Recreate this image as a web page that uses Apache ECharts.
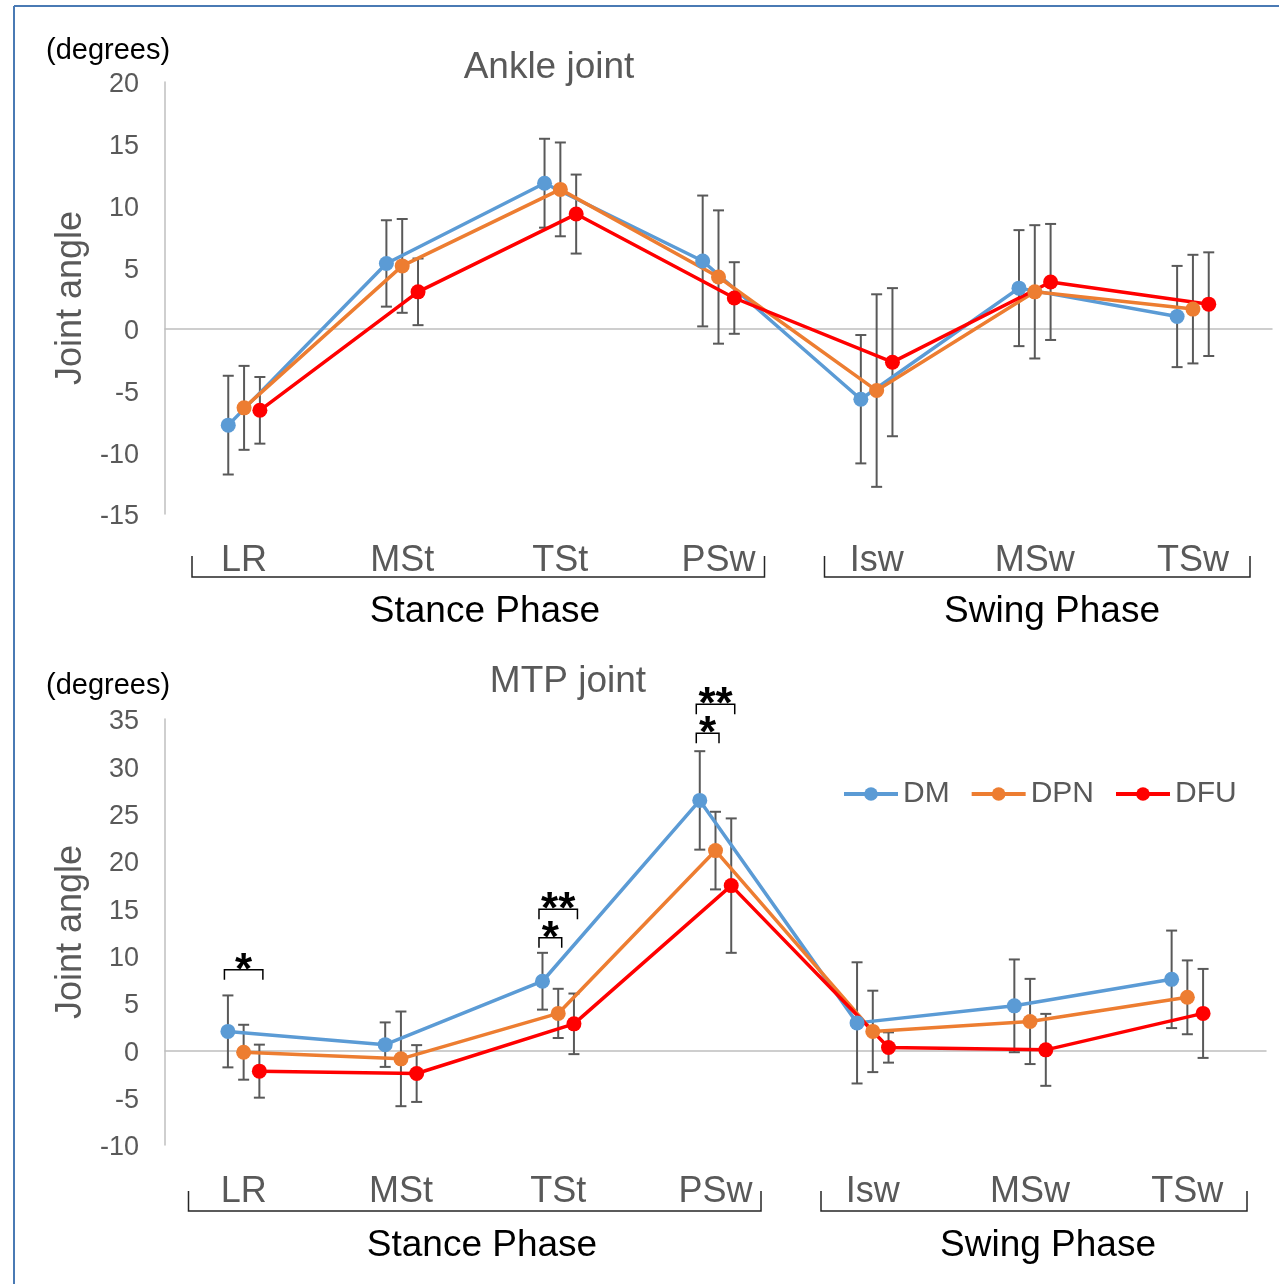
<!DOCTYPE html>
<html>
<head>
<meta charset="utf-8">
<script src="https://cdn.jsdelivr.net/npm/echarts@6/dist/echarts.min.js"></script>
<style>
  html, body { margin: 0; padding: 0; background: #fff; }
  #main { width: 1279px; height: 1284px; }
</style>
</head>
<body>
<div id="main"></div>
<script>
'use strict';
// gait phases
var categories = ['LR', 'MSt', 'TSt', 'PSw', 'Isw', 'MSw', 'TSw'];
var groups = ['DM', 'DPN', 'DFU'];
var colors = ['#5B9BD5', '#ED7D31', '#FF0000'];

// Ankle joint (mean / sd)
var ankleDM = [-7.8, 5.3, 11.8, 5.5, -5.7, 3.3, 1.0];
var ankleDMsd = [4.0, 3.5, 3.6, 5.3, 5.2, 4.7, 4.1];
var ankleDPN = [-6.4, 5.1, 11.3, 4.2, -5.0, 3.0, 1.6];
var ankleDPNsd = [3.4, 3.8, 3.8, 5.4, 7.8, 5.4, 4.4];
var ankleDFU = [-6.6, 3.0, 9.3, 2.5, -2.7, 3.8, 2.0];
var ankleDFUsd = [2.7, 2.7, 3.2, 2.9, 6.0, 4.7, 4.2];

// MTP joint (mean / sd)
var mtpDM = [2.0, 0.6, 7.3, 26.4, 2.9, 4.7, 7.5];
var mtpDMsd = [3.8, 2.35, 3.0, 5.2, 6.4, 4.9, 5.15];
var mtpDPN = [-0.2, -0.9, 3.9, 21.1, 2.0, 3.05, 5.6];
var mtpDPNsd = [2.9, 5.0, 2.6, 4.1, 4.3, 4.5, 3.9];
var mtpDFU = [-2.2, -2.45, 2.8, 17.4, 0.3, 0.05, 3.9];
var mtpDFUsd = [2.8, 3.0, 3.2, 7.1, 1.6, 3.8, 4.7];

// significance brackets on MTP (from DM to group index sigTo)
var sigCat = [0, 2, 2, 3, 3];
var sigTo = [2, 1, 2, 1, 2];
var sigY = [8.5, 11.9, 14.9, 33.5, 36.55];
var sigLabel = ['*', '*', '**', '*', '**'];

var dodge = [-0.1, 0, 0.1];
var FONT = '"Liberation Sans", Arial, sans-serif';
var GRAY = '#595959';
var AXIS = '#bfbfbf';

function pts(vals, s) {
	return vals.map(function(v, i) { return [i + dodge[s], v]; });
}
function bars(vals, sd, s) {
	return vals.map(function(v, i) { return [i + dodge[s], v - sd[i], v + sd[i]]; });
}

function errorBarItem(params, api) {
	var top = api.coord([api.value(0), api.value(2)]);
	var bot = api.coord([api.value(0), api.value(1)]);
	var w = 5.5;
	var st = { stroke: GRAY, lineWidth: 2 };
	return {
		type: 'group',
		children: [
			{ type: 'line', shape: { x1: top[0], y1: top[1], x2: bot[0], y2: bot[1] }, style: st },
			{ type: 'line', shape: { x1: top[0] - w, y1: top[1], x2: top[0] + w, y2: top[1] }, style: st },
			{ type: 'line', shape: { x1: bot[0] - w, y1: bot[1], x2: bot[0] + w, y2: bot[1] }, style: st }
		]
	};
}

function sigItem(params, api) {
	var a = api.coord([api.value(0), api.value(2)]);
	var b = api.coord([api.value(1), api.value(2)]);
	var x1 = a[0] - 3.5, x2 = b[0] + 3.5, y = a[1], tick = 10;
	return {
		type: 'group',
		children: [
			{
				type: 'polyline',
				shape: { points: [[x1, y + tick], [x1, y], [x2, y], [x2, y + tick]] },
				style: { stroke: '#000', lineWidth: 1.5, fill: null }
			},
			{
				type: 'text',
				style: {
					text: sigLabel[params.dataIndex],
					x: (x1 + x2) / 2, y: y + 2,
					align: 'center', verticalAlign: 'middle',
					font: 'bold 44px ' + FONT, fill: '#000'
				}
			}
		]
	};
}

function panelSeries(gi, means, sds) {
	var out = [];
	for (var s = 0; s < 3; s++) {
		out.push({
			type: 'custom',
			xAxisIndex: gi * 2, yAxisIndex: gi,
			renderItem: errorBarItem,
			encode: { x: 0, y: [1, 2] },
			data: bars(means[s], sds[s], s),
			z: 2, silent: true
		});
	}
	for (var s2 = 0; s2 < 3; s2++) {
		out.push({
			name: groups[s2],
			type: 'line',
			xAxisIndex: gi * 2, yAxisIndex: gi,
			data: pts(means[s2], s2),
			symbol: 'circle', symbolSize: 15,
			lineStyle: { width: 3.5, color: colors[s2] },
			itemStyle: { color: colors[s2] },
			z: 3
		});
	}
	return out;
}

function xAxes(gi) {
	return [{
		gridIndex: gi, type: 'value', min: -0.5, max: 6.5, position: 'bottom',
		axisLine: { onZero: true, lineStyle: { color: AXIS, width: 1.5 } },
		axisTick: { show: false }, axisLabel: { show: false }, splitLine: { show: false }
	}, {
		gridIndex: gi, type: 'category', data: categories, position: 'bottom',
		axisLine: { show: false, onZero: false }, axisTick: { show: false },
		axisLabel: { fontSize: 36, color: GRAY, fontFamily: FONT, margin: 29 },
		splitLine: { show: false }
	}];
}

function yAxis(gi, min, max) {
	return {
		gridIndex: gi, type: 'value', min: min, max: max, interval: 5,
		axisLine: { show: true, onZero: false, lineStyle: { color: AXIS, width: 1.5 } },
		axisTick: { show: false }, splitLine: { show: false },
		axisLabel: {
			margin: 26,
			formatter: '{t|{value}}',
			rich: { t: { fontSize: 27, color: GRAY, fontFamily: FONT, padding: [6, 0, 0, 0] } }
		},
		name: 'Joint angle', nameLocation: 'middle', nameGap: 74,
		nameTextStyle: { fontSize: 36, color: GRAY, fontFamily: FONT }
	};
}

function txt(x, y, text, size, color, align) {
	return {
		type: 'text', x: x, y: y,
		style: { text: text, font: size + 'px ' + FONT, fill: color, align: align || 'center', verticalAlign: 'middle' }
	};
}
function bracket(x1, x2, y, h) {
	return {
		type: 'polyline',
		shape: { points: [[x1, y - h], [x1, y], [x2, y], [x2, y - h]] },
		style: { stroke: '#262626', lineWidth: 1.5, fill: null }
	};
}

var chart = echarts.init(document.getElementById('main'));

var series = panelSeries(0, [ankleDM, ankleDPN, ankleDFU], [ankleDMsd, ankleDPNsd, ankleDFUsd])
	.concat(panelSeries(1, [mtpDM, mtpDPN, mtpDFU], [mtpDMsd, mtpDPNsd, mtpDFUsd]));

series.push({
	type: 'custom',
	xAxisIndex: 2, yAxisIndex: 1,
	renderItem: sigItem,
	clip: false,
	encode: { x: [0, 1], y: 2 },
	data: sigCat.map(function(c, i) { return [c + dodge[0], c + dodge[sigTo[i]], sigY[i]]; }),
	z: 4, silent: true
});

var option = {
	animation: false,
	backgroundColor: '#fff',
	grid: [
		{ left: 165, top: 82, width: 1107, height: 432 },
		{ left: 165, top: 719, width: 1101, height: 426 }
	],
	xAxis: xAxes(0).concat(xAxes(1)),
	yAxis: [yAxis(0, -15, 20), yAxis(1, -10, 35)],
	legend: {
		data: groups, left: 842, top: 779, padding: 0,
		itemWidth: 54, itemHeight: 17, itemGap: 20,
		lineStyle: { width: 4 },
		textStyle: { fontSize: 30, color: GRAY, fontFamily: FONT, padding: [4, 0, 0, 0] }
	},
	graphic: [
		// frame
		{ type: 'line', shape: { x1: 14, y1: 6, x2: 1279, y2: 6 }, style: { stroke: '#4a7ab4', lineWidth: 2 } },
		{ type: 'line', shape: { x1: 14, y1: 6, x2: 14, y2: 1284 }, style: { stroke: '#4a7ab4', lineWidth: 2 } },
		// top panel
		txt(46, 51, '(degrees)', 29, '#000', 'left'),
		txt(549, 68, 'Ankle joint', 37, GRAY),
		bracket(192, 764.5, 577, 21),
		bracket(824.5, 1250, 577, 21),
		txt(485, 612, 'Stance Phase', 37, '#000'),
		txt(1052, 612, 'Swing Phase', 37, '#000'),
		// bottom panel
		txt(46, 686, '(degrees)', 29, '#000', 'left'),
		txt(568, 682, 'MTP joint', 37, GRAY),
		bracket(188.5, 761, 1211, 20),
		bracket(821, 1247, 1211, 20),
		txt(482, 1246, 'Stance Phase', 37, '#000'),
		txt(1048, 1246, 'Swing Phase', 37, '#000')
	],
	series: series
};

chart.setOption(option);
</script>
</body>
</html>
